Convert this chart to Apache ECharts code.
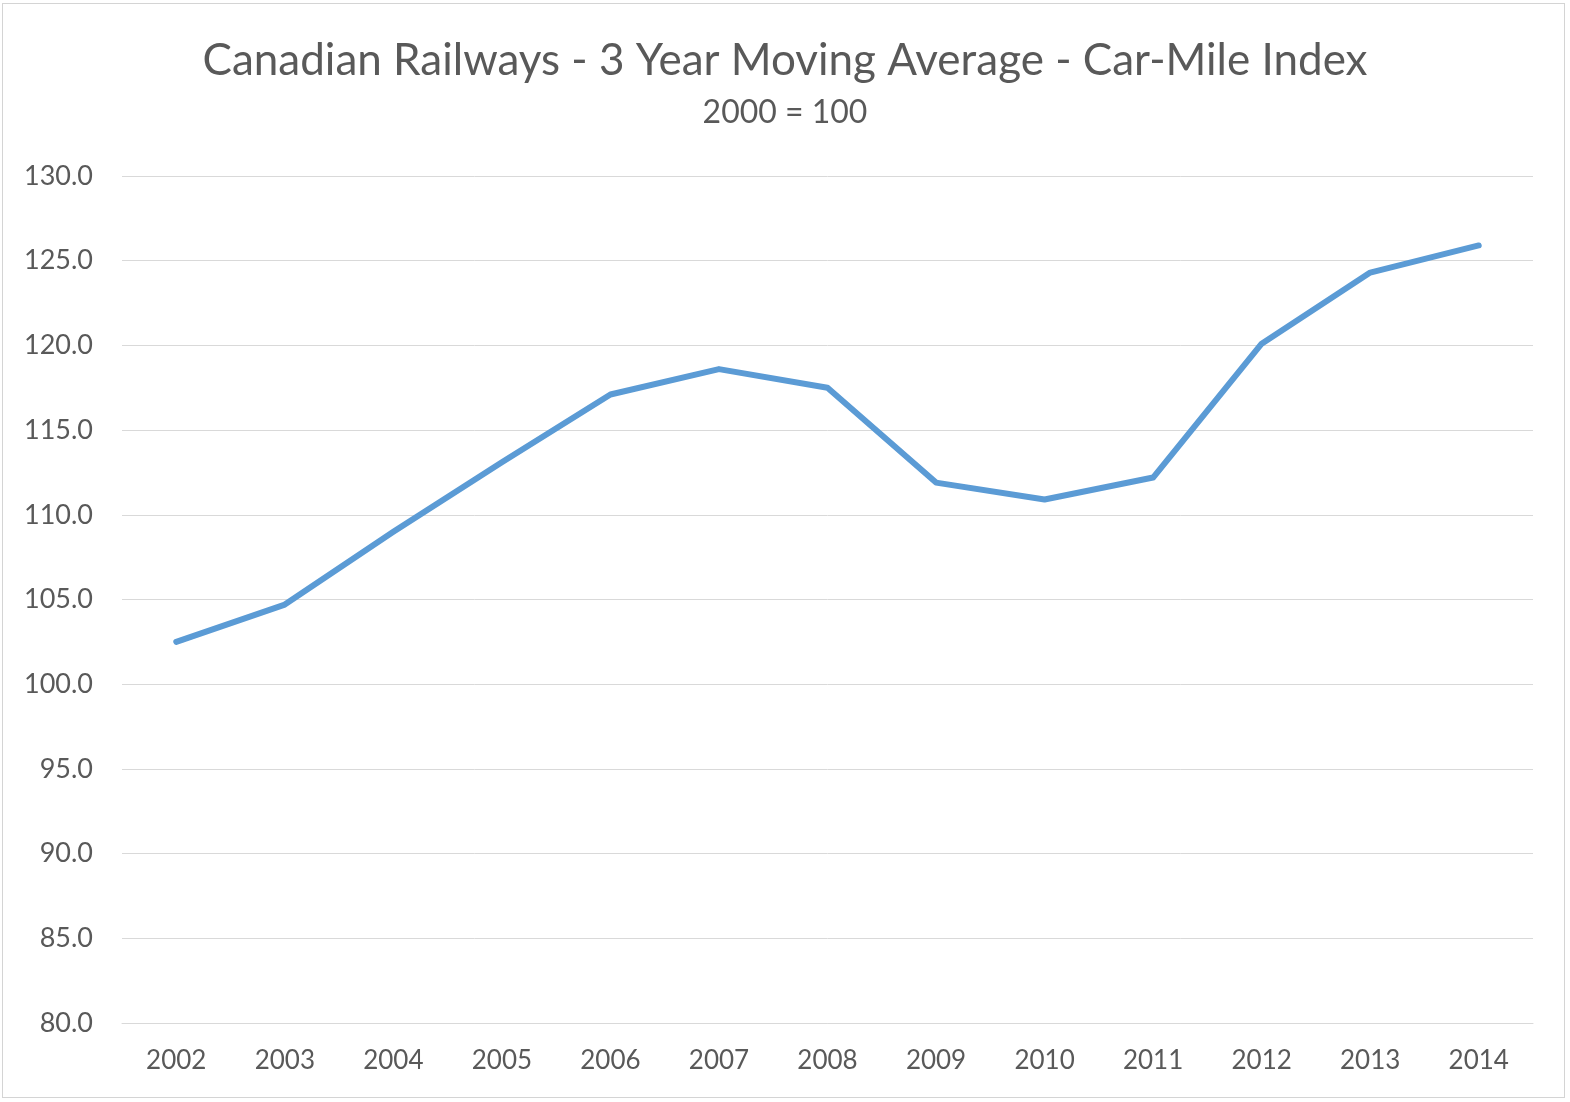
<!DOCTYPE html>
<html>
<head>
<meta charset="utf-8">
<script src="https://cdn.jsdelivr.net/npm/echarts@6/dist/echarts.min.js"></script>
<style>
html,body{margin:0;padding:0;background:#fff;}
#frame{position:absolute;left:2px;top:3px;width:1563px;height:1095px;border:1px solid #d4d4d4;box-sizing:border-box;}
#chart{position:absolute;left:0;top:0;width:1570px;height:1102px;}
</style>
</head>
<body>
<div id="frame"></div>
<div id="chart"></div>
<script>
const titleText = 'Canadian Railways - 3 Year Moving Average - Car-Mile Index';
const subtitleText = '2000 = 100';
const years = ['2002','2003','2004','2005','2006','2007','2008','2009','2010','2011','2012','2013','2014'];
const carMileIndex = [102.5, 104.7, 109.0, 113.1, 117.1, 118.6, 117.5, 111.9, 110.9, 112.2, 120.1, 124.3, 125.9];
const yMin = 80, yMax = 130, yStep = 5;

const chart = echarts.init(document.getElementById('chart'), null, {renderer:'canvas'});
chart.setOption({
  backgroundColor: 'transparent',
  animation: false,
  title: {
    text: titleText,
    subtext: subtitleText,
    left: 'center',
    top: 34,
    itemGap: 14,
    textStyle: {fontFamily: 'Lato', fontSize: 44, fontWeight: 'normal', color: '#595959'},
    subtextStyle: {fontFamily: 'Lato', fontSize: 32, color: '#595959'}
  },
  grid: {left: 122, right: 37, top: 176, bottom: 79, containLabel: false},
  xAxis: {
    type: 'category',
    data: years,
    boundaryGap: true,
    axisLine: {show: true, lineStyle: {color: '#d9d9d9', width: 1}},
    axisTick: {show: false},
    axisLabel: {fontFamily: 'Lato', fontSize: 26, color: '#595959', margin: 25}
  },
  yAxis: {
    type: 'value',
    min: yMin, max: yMax, interval: yStep,
    axisLine: {show: false},
    axisTick: {show: false},
    splitLine: {lineStyle: {color: '#d9d9d9', width: 1}},
    axisLabel: {fontFamily: 'Lato', fontSize: 27, color: '#595959', margin: 29,
      formatter: v => v.toFixed(1)}
  },
  series: [{
    type: 'line',
    data: carMileIndex,
    showSymbol: false,
    symbol: 'none',
    lineStyle: {color: '#5b9bd5', width: 6, cap: 'round', join: 'round'},
    itemStyle: {color: '#5b9bd5'}
  }]
});
</script>
</body>
</html>
